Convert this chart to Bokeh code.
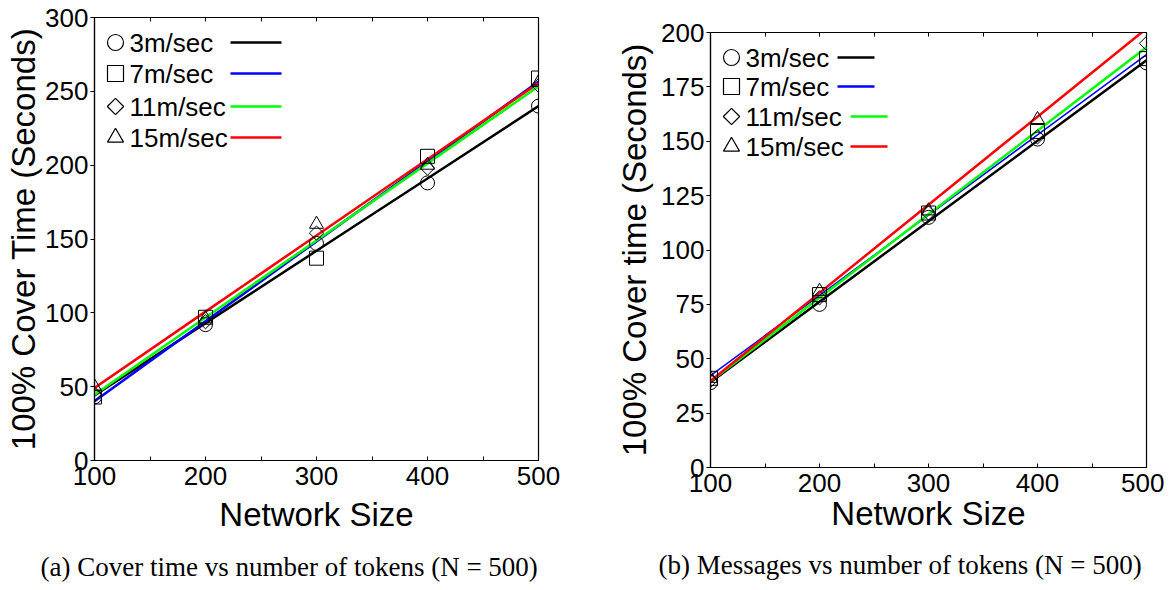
import numpy as np
from bokeh.plotting import figure
from bokeh.models import LinearAxis, Range1d, Title, FixedTicker, CustomLabelingPolicy
from bokeh.layouts import row, column
from bokeh.embed import file_html
from bokeh.resources import INLINE
from bokeh.core.properties import value

# ---------------- data ----------------
network_size = [100, 200, 300, 400, 500]
speeds = ["3m/sec", "7m/sec", "11m/sec", "15m/sec"]
colors = ["#000000", "#0000ff", "#00ff00", "#ff0000"]
markers = ["circle", "square", "diamond", "triangle"]

# (a) cover time
a_3 = [43, 92, 147, 188, 240]
a_7 = [43, 97, 137, 206, 259]
a_11 = [45, 94, 154, 198, 254]
a_15 = [50, 96, 160, 200, 256]

# (b) messages panel
b_3 = [39, 75, 115, 151, 186]
b_7 = [41, 79.5, 117, 154.5, 188]
b_11 = [40, 78, 117, 152, 195]
b_15 = [41, 81, 118, 160, 204]

x_ticks = [100, 200, 300, 400, 500]
x_minor = [150, 250, 350, 450]
a_yticks = [0, 50, 100, 150, 200, 250, 300]
b_yticks = [0, 25, 50, 75, 100, 125, 150, 175, 200]

SANS = "Liberation Sans"
SERIF = "Liberation Serif"


def add_marker(p, m, xs, ys, size, lw):
    if m == "diamond":
        p.scatter(xs, ys, marker="square", angle=np.pi / 4, size=size * 0.72,
                  fill_alpha=0, line_color="black", line_width=lw)
    else:
        p.scatter(xs, ys, marker=m, size=size, fill_alpha=0,
                  line_color="black", line_width=lw)


def make_panel(series, ymax, yticks, ylabel, fw, fh, bl, br, bt, bb,
               caption, cap_offset, cap_standoff, leg_rows, leg_lines,
               ylabel_standoff, xlabel_standoff):
    p = figure(frame_width=fw, frame_height=fh, title=None,
               x_range=Range1d(100, 500), y_range=Range1d(0, ymax),
               output_backend="svg", toolbar_location=None,
               min_border_left=bl, min_border_right=br,
               min_border_top=bt, min_border_bottom=bb)
    p.grid.visible = False
    p.outline_line_color = "black"
    p.outline_line_width = 1.2
    p.background_fill_color = "white"
    p.border_fill_color = "white"

    xa = p.xaxis[0]
    xa.ticker = FixedTicker(ticks=x_ticks, minor_ticks=x_minor)
    xa.axis_label = "Network Size"
    xa.axis_label_text_font = SANS
    xa.axis_label_text_font_size = "33px"
    xa.axis_label_text_font_style = "normal"
    xa.axis_label_text_color = "black"
    xa.axis_label_standoff = xlabel_standoff
    xa.major_label_text_font = SANS
    xa.major_label_text_font_size = "26px"
    xa.major_label_text_color = "black"
    xa.major_label_standoff = 6
    xa.major_tick_in = 4
    xa.major_tick_out = 0
    xa.minor_tick_in = 4
    xa.minor_tick_out = 0
    xa.axis_line_width = 1.2
    xa.axis_line_color = "black"
    xa.major_tick_line_color = "black"
    xa.minor_tick_line_color = "black"

    ya = p.yaxis[0]
    ya.ticker = FixedTicker(ticks=yticks)
    ya.axis_label = ylabel
    ya.axis_label_text_font = SANS
    ya.axis_label_text_font_size = "33px"
    ya.axis_label_text_font_style = "normal"
    ya.axis_label_text_color = "black"
    ya.axis_label_standoff = ylabel_standoff
    ya.major_label_text_font = SANS
    ya.major_label_text_font_size = "26px"
    ya.major_label_text_color = "black"
    ya.major_label_standoff = 2
    ya.major_tick_in = 0
    ya.major_tick_out = 4
    ya.axis_line_width = 1.2
    ya.axis_line_color = "black"
    ya.major_tick_line_color = "black"

    top = LinearAxis(ticker=FixedTicker(ticks=x_ticks, minor_ticks=x_minor),
                     major_label_policy=CustomLabelingPolicy(
                         code="for (const i of indices) indices.unset(i); return indices"),
                     major_label_text_font_size="1px", major_label_standoff=0,
                     major_tick_in=4, major_tick_out=0,
                     minor_tick_in=4, minor_tick_out=0,
                     axis_line_width=1.2, axis_line_color="black",
                     major_tick_line_color="black", minor_tick_line_color="black")
    p.add_layout(top, "above")

    xs = np.array(network_size, dtype=float)
    # fitted (least-squares) lines
    for (ys, lw), color in zip(series, colors):
        k, b = np.polyfit(xs, np.array(ys, dtype=float), 1)
        p.line(xs, k * xs + b, line_color=color, line_width=lw)
    # data markers
    for (ys, lw), m in zip(series, markers):
        add_marker(p, m, xs, ys, 14, 1)

    # legend (positions in frame pixels converted to data)
    def px2x(px):
        return 100 + px * 400.0 / fw

    def px2y(py):
        return ymax - py * ymax / fh

    for i, (name, color, m) in enumerate(zip(speeds, colors, markers)):
        yy = px2y(leg_rows[i])
        add_marker(p, m, [px2x(21)], [yy], 16, 1.2)
        p.text([px2x(35)], [yy], text=[name], text_font=value(SANS),
               text_font_size="26px", text_baseline="middle",
               text_align="left", text_color="black")
        x0, x1 = leg_lines[i]
        p.line([px2x(x0), px2x(x1)], [yy, yy], line_color=color, line_width=2.5)

    cap = Title(text=caption, align="left", offset=cap_offset,
                text_font=SERIF, text_font_size="27px", text_color="black",
                text_font_style="normal", standoff=cap_standoff)
    p.add_layout(cap, "below")
    return p


pa = make_panel([(a_3, 2.5), (a_7, 2.5), (a_11, 2.5), (a_15, 2.5)], 300, a_yticks,
                "100% Cover Time (Seconds)", 444, 443, 94, 59, 17, 100,
                "(a) Cover time vs number of tokens (N = 500)", -54, 28,
                [25, 56, 89, 120], [(136, 187)] * 4, 0, 8)
pb = make_panel([(b_3, 2.5), (b_7, 1.5), (b_11, 2.5), (b_15, 2.5)], 200, b_yticks,
                "100% Cover time (Seconds)", 436, 435, 113, 18, 32, 100,
                "(b) Messages vs number of tokens (N = 500)", -52, 26,
                [25, 54, 84, 114], [(127, 164), (127, 164), (140, 177), (140, 177)], 5, 0)

layout = row(column(pa), column(pb))
open("out.html", "w").write(file_html(layout, INLINE))
